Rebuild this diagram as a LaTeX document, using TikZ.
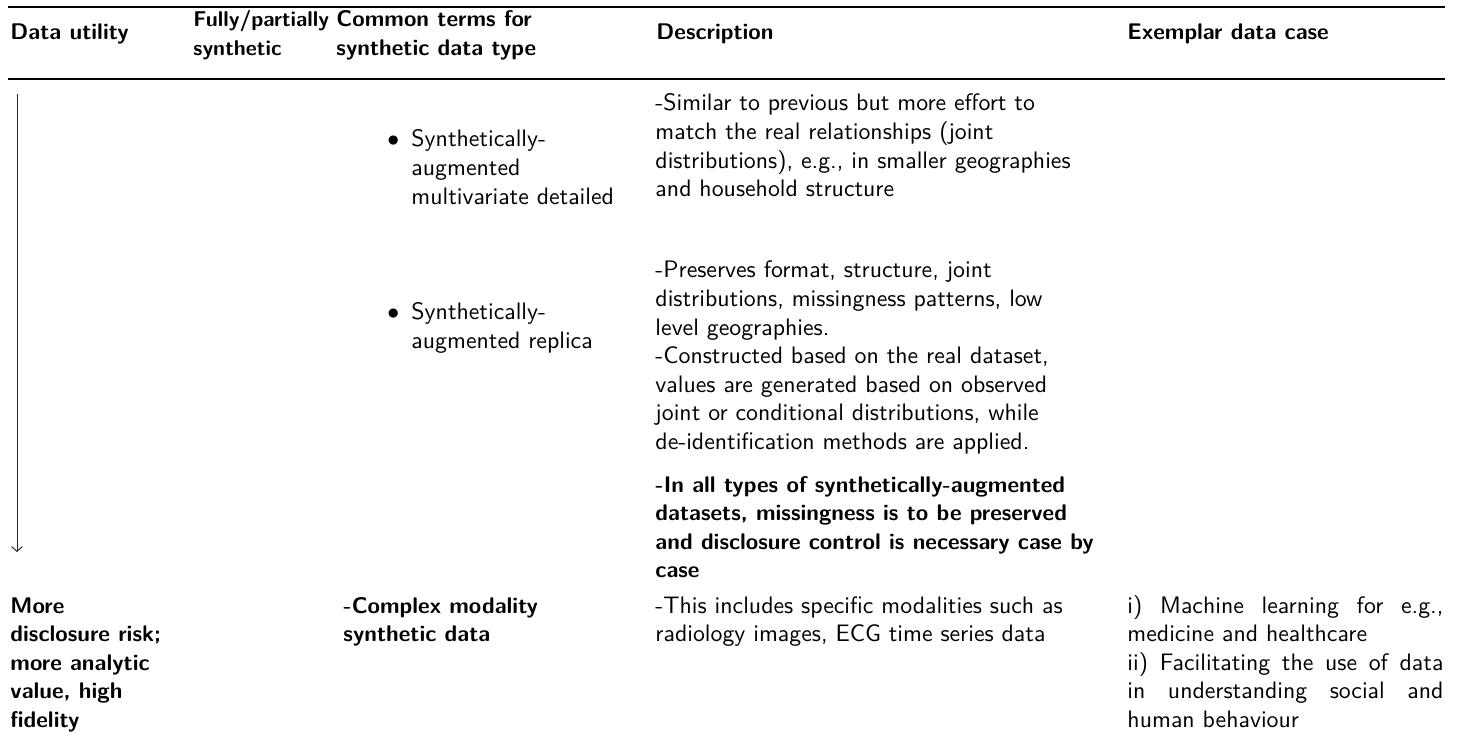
\documentclass[tikz,border=0pt]{standalone}
\usepackage{fontspec}
\usetikzlibrary{arrows.meta}
\begin{document}
\begin{tikzpicture}[x=0.42pt,y=-0.42pt,
  every node/.style={inner sep=0pt, anchor=base west, font=\sffamily\fontsize{10}{12}\selectfont},
  hd/.style={font=\sffamily\bfseries\fontsize{9.5}{12}\selectfont},
  hdnarrow/.style={font=\sffamily\bfseries\fontsize{9}{12}\selectfont},
  toprule/.style={line width=0.8pt},
  midrule/.style={line width=0.45pt},
  scale arrow/.style={line width=0.4pt, draw=black!85, -{Straight Barb[length=2pt,width=4.5pt]}}]
\useasboundingbox (0,0) rectangle (1461,742);
% rules
\coordinate (tl) at (8,7); \coordinate (tr) at (1445,7);
\coordinate (ml) at (8,79); \coordinate (mr) at (1445,79);
\draw[toprule] (tl) -- (tr);
\draw[midrule] (ml) -- (mr);
% header
\node[hd] (h1) at (10,40) {Data utility};
\node[hdnarrow] (h2) at (193,27) {\parbox[t]{80pt}{\raggedright Fully/partially\\synthetic}};
\node[hd] (h3) at (336,27) {\parbox[t]{120pt}{\raggedright Common terms for\\synthetic data type}};
\node[hd] (h4) at (656,40) {Description};
\node[hd] (h5) at (1127,40) {Exemplar data case};
% arrow
\coordinate (atop) at (17,94);
\coordinate (abot) at (17,552);
\draw[scale arrow] (atop) -- (abot);
% bullets
\node (b1dot) at (387,147) {$\bullet$};
\node (b1) at (411,147) {\parbox[t]{150pt}{\raggedright Synthetically-\\augmented\\multivariate detailed}};
\node (b2dot) at (387,320) {$\bullet$};
\node (b2) at (411,320) {\parbox[t]{150pt}{\raggedright Synthetically-\\augmented replica}};
% descriptions
\node (d1) at (655,111) {\parbox[t]{250pt}{\raggedright -Similar to previous but more effort to\\match the real relationships (joint\\distributions), e.g., in smaller geographies\\and household structure}};
\node (d2) at (655,278) {\parbox[t]{250pt}{\raggedright -Preserves format, structure, joint\\distributions, missingness patterns, low\\level geographies.\\-Constructed based on the real dataset,\\values are generated based on observed\\joint or conditional distributions, while\\de-identification methods are applied.}};
\node[hd] (d3) at (655,492) {\parbox[t]{250pt}{\raggedright -In all types of synthetically-augmented\\datasets, missingness is to be preserved\\and disclosure control is necessary case by\\case}};
% last row
\node[hd] (u2) at (10,613) {\parbox[t]{100pt}{\raggedright More\\disclosure risk;\\more analytic\\value, high\\fidelity}};
\node[hd] (t3) at (343,613) {\parbox[t]{120pt}{\raggedright -Complex modality\\synthetic data}};
\node (d4) at (655,613) {\parbox[t]{250pt}{\raggedright -This includes specific modalities such as\\radiology images, ECG time series data}};
\node (e4) at (1127,613) {\parbox[t]{140pt}{\raggedright \makebox[132.7pt][s]{i) Machine learning for e.g.,}\\medicine and healthcare\\\makebox[132.7pt][s]{ii) Facilitating the use of data}\\\makebox[132.7pt][s]{in understanding social and}\\human behaviour}};
\end{tikzpicture}
\end{document}
